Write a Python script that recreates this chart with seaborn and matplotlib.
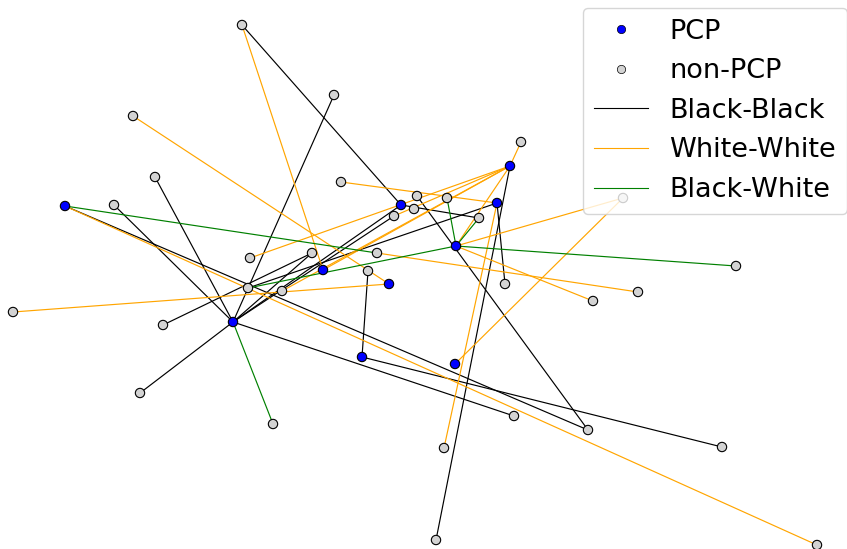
import pandas as pd
import matplotlib
matplotlib.use("Agg")
import matplotlib.pyplot as plt
from matplotlib.lines import Line2D
import seaborn as sns

# Nodes: name, x, y (layout positions), kind
node_names = ['P1', 'P2', 'P3', 'P4', 'P5', 'P6', 'P7', 'P8', 'P9', 'P10',
              'N1', 'N2', 'N3', 'N4', 'N5', 'N6', 'N7', 'N8', 'N9', 'N10',
              'N11', 'N12', 'N13', 'N14', 'N15', 'N16', 'N17', 'N18', 'N19', 'N20',
              'N21', 'N22', 'N23', 'N24', 'N25', 'N26', 'N27', 'N28', 'N29', 'N30',
              'N31', 'N32', 'N33']
node_x = [65, 233, 401, 510, 497, 456, 323, 389, 362, 455,
          242, 334, 133, 155, 114, 341, 417, 447, 521, 414,
          394, 479, 250, 377, 312, 368, 248, 282, 505, 13,
          163, 623, 736, 593, 638, 140, 273, 514, 588, 722,
          444, 436, 817]
node_y = [206, 322, 205, 166, 203, 246, 270, 284, 357, 364,
          25, 95, 116, 177, 205, 182, 196, 198, 142, 209,
          216, 218, 258, 253, 253, 271, 288, 291, 284, 312,
          325, 198, 266, 301, 292, 393, 424, 416, 430, 447,
          448, 540, 545]
node_kind = ['PCP'] * 10 + ['non-PCP'] * 33

# Edges: source, target, type
edge_src = ['N1', 'N2', 'N4', 'N5', 'P1', 'P2', 'P2', 'P9', 'N16', 'N21',
            'P2', 'P2', 'P3', 'N7', 'P5', 'P4', 'P5', 'P2',
            'N1', 'N3', 'P1', 'N20', 'N13', 'N6', 'P4', 'P4', 'P4', 'P4',
            'P5', 'P6', 'P6', 'P10', 'N14', 'P6',
            'P1', 'P2', 'N17', 'P6', 'P6', 'P6']
edge_dst = ['P3', 'P2', 'P2', 'P2', 'N29', 'N26', 'N28', 'N30', 'P9', 'N15',
            'P3', 'N15', 'N12', 'N29', 'N19', 'N32', 'N17', 'N11',
            'P7', 'P8', 'N33', 'P8', 'P4', 'P5', 'N9', 'P7', 'N11', 'N18',
            'N31', 'P4', 'N22', 'N22', 'N25', 'N24',
            'N14', 'N27', 'P6', 'N8', 'N12', 'N23']
edge_type = (['Black-Black'] * 18 + ['White-White'] * 16 + ['Black-White'] * 6)

pos = dict(zip(node_names, zip(node_x, node_y)))
rows = []
for i, (s, t, k) in enumerate(zip(edge_src, edge_dst, edge_type)):
    for n in (s, t):
        rows.append({'edge': i, 'x': pos[n][0], 'y': pos[n][1], 'type': k})
edges = pd.DataFrame(rows)
nodes = pd.DataFrame({'x': node_x, 'y': node_y, 'kind': node_kind})

edge_colors = {'Black-Black': 'black', 'White-White': 'orange', 'Black-White': 'green'}
node_colors = {'PCP': 'blue', 'non-PCP': 'lightgray'}

fig = plt.figure(figsize=(8.47, 5.49), dpi=100)
ax = fig.add_axes([0, 0, 1, 1])
sns.lineplot(data=edges, x='x', y='y', units='edge', hue='type', estimator=None,
             sort=False, palette=edge_colors, linewidth=0.85, legend=False, ax=ax)
sns.scatterplot(data=nodes, x='x', y='y', hue='kind', palette=node_colors, s=45,
                edgecolor='black', linewidth=0.8, legend=False, ax=ax, zorder=3)
ax.set_xlim(0, 847)
ax.set_ylim(549, 0)
ax.axis('off')

handles = [
    Line2D([], [], marker='o', color='none', markerfacecolor='blue', markeredgecolor='black',
           markeredgewidth=0.5, markersize=6),
    Line2D([], [], marker='o', color='none', markerfacecolor='lightgray', markeredgecolor='black',
           markeredgewidth=0.5, markersize=6),
    Line2D([], [], color='black', linewidth=0.8),
    Line2D([], [], color='orange', linewidth=0.8),
    Line2D([], [], color='green', linewidth=0.8),
]
ax.legend(handles, ['PCP', 'non-PCP', 'Black-Black', 'White-White', 'Black-White'],
          loc='upper right', bbox_to_anchor=(1.0, 1 - 8 / 549), fontsize=19.5, framealpha=0.8,
          handlelength=2.0, borderaxespad=0.0)

fig.savefig('out.png', dpi=100)
